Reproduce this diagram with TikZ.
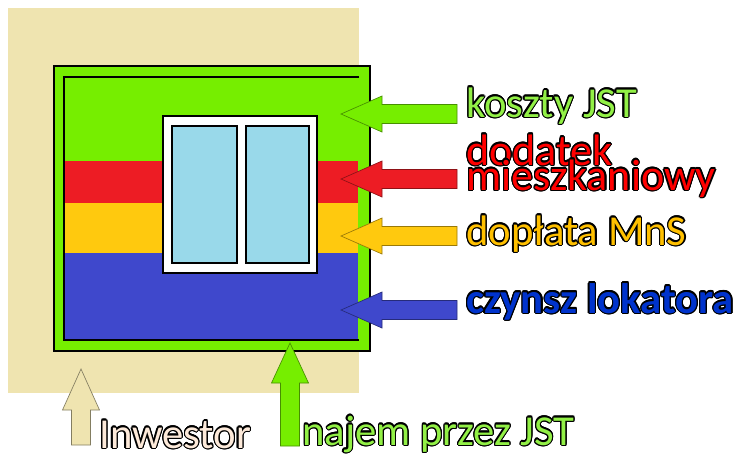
\documentclass[tikz,border=0pt]{standalone}
\usepackage{fontspec}
\setmainfont{Carlito}
\usepackage{contour}
\contourlength{0.9pt}
\contournumber{16}

\definecolor{piasek}{RGB}{239,228,176}
\definecolor{trawa}{RGB}{118,238,0}
\definecolor{czerwien}{RGB}{237,28,36}
\definecolor{zloto}{RGB}{255,201,14}
\definecolor{indygo}{RGB}{63,72,204}
\definecolor{szyba}{RGB}{153,217,234}
\definecolor{zielonytxt}{RGB}{146,240,70}
\definecolor{czerwonytxt}{RGB}{255,0,0}
\definecolor{zlotytxt}{RGB}{255,192,0}
\definecolor{niebieskitxt}{RGB}{0,51,204}
\definecolor{jasnytxt}{RGB}{253,234,218}

\begin{document}
\begin{tikzpicture}[x=0.75pt,y=0.75pt,yscale=-1,xscale=1,
  opis/.style={anchor=base west,inner sep=0pt,font=\fontsize{32}{32}\selectfont},
  strzalka/.style={line width=0.5pt,line join=miter}]
\useasboundingbox (0,0) rectangle (736,458);

%Plot - investor land
\fill [piasek] (8,8) rectangle (359,393);

%Building
\draw [fill=trawa,line width=1.6pt] (54,66) rectangle (370,351);
%Stripes
\fill [czerwien] (64,161) rectangle (358,203);
\fill [zloto] (64,203) rectangle (358,253);
\fill [indygo] (64,253) rectangle (358,340);
%Inner frame
\draw [line width=2pt] (359,77) -- (64,77) -- (64,340) -- (359,340);

%Window
\draw [fill=white,line width=1.6pt] (163,116) rectangle (317,273);
\draw [fill=szyba,line width=1.6pt] (172,126) rectangle (237,263);
\draw [fill=szyba,line width=1.6pt] (246,126) rectangle (309,263);

%Left block arrows
\draw [strzalka,fill=trawa,draw=trawa!60!black] (341,114) -- (382,96) -- (382,104.5) -- (457,104.5) -- (457,123.5) -- (382,123.5) -- (382,132) -- cycle;
\draw [strzalka,fill=czerwien,draw=czerwien!60!black] (341,179) -- (382,161) -- (382,169.5) -- (457,169.5) -- (457,188.5) -- (382,188.5) -- (382,197) -- cycle;
\draw [strzalka,fill=zloto,draw=zloto!60!black] (341,236) -- (382,218) -- (382,226.5) -- (457,226.5) -- (457,245.5) -- (382,245.5) -- (382,254) -- cycle;
\draw [strzalka,fill=indygo,draw=indygo!60!black] (341,310) -- (382,292) -- (382,300.5) -- (457,300.5) -- (457,319.5) -- (382,319.5) -- (382,328) -- cycle;

%Up block arrows
\draw [strzalka,fill=trawa,draw=trawa!60!black] (290,343) -- (308.5,383) -- (299.5,383) -- (299.5,446) -- (280.5,446) -- (280.5,383) -- (271.5,383) -- cycle;
\draw [strzalka,fill=piasek,draw=piasek!55!black] (81,369) -- (99.5,410) -- (90.5,410) -- (90.5,445) -- (71.5,445) -- (71.5,410) -- (62.5,410) -- cycle;

% Text Node
\node [opis] (koszty) at (466,117) {\contour{black}{\textcolor{zielonytxt}{koszty JST}}};
% Text Node
\node [opis,font=\fontsize{33}{33}\selectfont] (dodatek) at (466,165) {\contour{black}{\textcolor{czerwonytxt}{dodatek}}};
% Text Node
\node [opis,font=\fontsize{33}{33}\selectfont] (mieszk) at (466,190) {\contour{black}{\textcolor{czerwonytxt}{mieszkaniowy}}};
% Text Node
\node [opis] (doplata) at (466,245) {\contour{black}{\textcolor{zlotytxt}{dopłata MnS}}};
% Text Node
\node [opis] (czynsz) at (466,313) {\contour{black}{\textcolor{niebieskitxt}{\bfseries czynsz lokatora}}};
% Text Node
\node [opis] (inwestor) at (99,448) {\contour{black}{\textcolor{jasnytxt}{Inwestor}}};
% Text Node
\node [opis] (najem) at (302,445) {\contour{black}{\textcolor{zielonytxt}{najem przez JST}}};

\end{tikzpicture}
\end{document}
